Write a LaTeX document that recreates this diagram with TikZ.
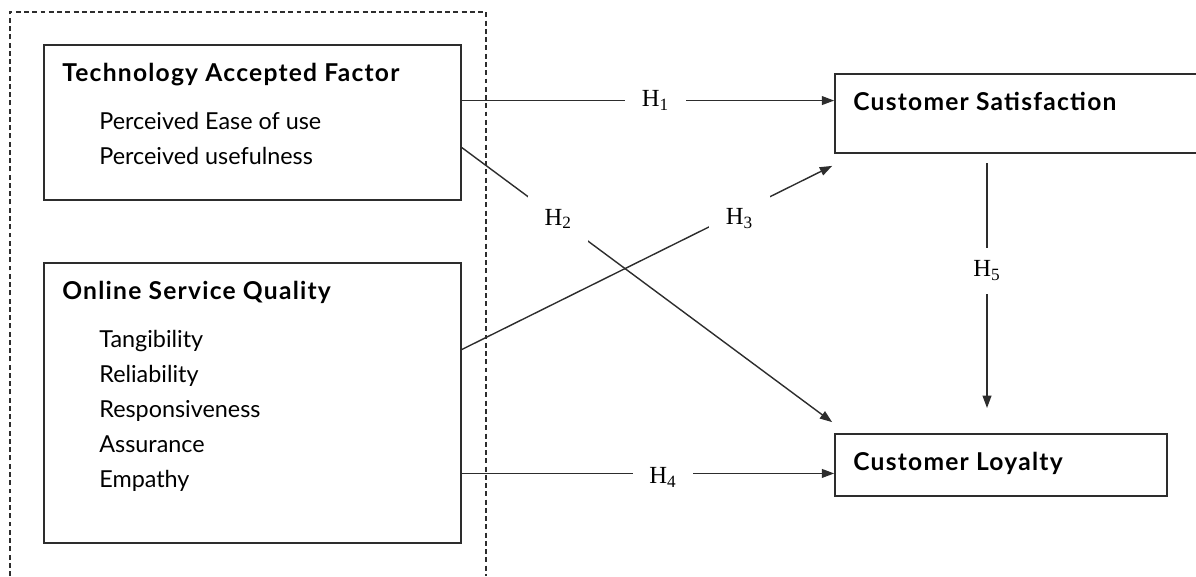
\documentclass[tikz,border=0pt]{standalone}
\usepackage{fontspec}
\setmainfont{Lato}
\newfontfamily\titlefont[LetterSpace=5]{Lato}
\newfontfamily\hypfont{Liberation Serif}
\definecolor{linegray}{RGB}{45, 45, 45}
\usetikzlibrary{calc, arrows.meta, positioning}
\tikzset{
    factorbox/.style={draw=linegray, line width=1pt, rectangle, inner sep=0pt},
    factortitle/.style={anchor=base west, inner sep=0pt,
        font=\titlefont\fontsize{14}{16}\selectfont\bfseries},
    factoritem/.style={anchor=base west, inner sep=0pt,
        font=\fontsize{13.3}{15}\selectfont},
    hyparrow/.style={draw=linegray, line width=0.8pt,
        -{Triangle[length=7pt, width=5pt]}},
    hyplabel/.style={fill=white, inner xsep=0.33cm, inner ysep=0.26cm,
        font=\hypfont\fontsize{14}{16}\selectfont},
    groupline/.style={draw=linegray, line width=0.7pt,
        dash pattern=on 2.8pt off 1.9pt},
}

\begin{document}
\begin{tikzpicture}[x=0.02cm, y=-0.02cm]
    \useasboundingbox (0, 0) rectangle (1196, 576);
    \draw[groupline] (10, 576) |- (486, 12) -- (486, 576);

    \node[factorbox, minimum width=8.34cm, minimum height=3.1cm] (taf)
        at (252.5, 122.5) {};
    \node[factortitle] (taftitle) at (62, 81) {Technology Accepted Factor};
    \node[factoritem] (peou) at (99, 129) {Perceived Ease of use};
    \node[factoritem] (pu) at (99, 164) {Perceived usefulness};

    \node[factorbox, minimum width=8.34cm, minimum height=5.6cm] (osq)
        at (252.5, 403) {};
    \node[factortitle] (osqtitle) at (62, 299) {Online Service Quality};
    \foreach \dimname [count=\i] in {Tangibility, Reliability,
            Responsiveness, Assurance, Empathy}
        \node[factoritem] (osq\i) at (99, 312 + 35*\i) {\dimname};

    \node[factorbox, minimum width=7.3cm, minimum height=1.58cm] (cs)
        at (1017.5, 113.5) {};
    \node[factortitle] (cstitle) at (853, 110) {Customer Satisfaction};
    \node[factorbox, minimum width=6.64cm, minimum height=1.24cm] (cl)
        at (1001, 465) {};
    \node[factortitle] (cltitle) at (853, 470) {Customer Loyalty};

    \coordinate (h1s) at ($(taf.north east)!.36!(taf.south east)$);
    \coordinate (h2s) at ($(taf.north east)!.66!(taf.south east)$);
    \coordinate (h3s) at ($(osq.north east)!.31!(osq.south east)$);
    \coordinate (h4s) at ($(osq.north east)!.75!(osq.south east)$);
    \coordinate (h5s) at (987, 163);
    \coordinate (h5e) at (987, 408);

    \draw[hyparrow] (h1s) -- node[hyplabel, pos=.52] (h1)
        {H\textsubscript{1}} (h1s -| cs.west);
    \draw[hyparrow] (h2s) -- node[hyplabel, pos=.26] (h2)
        {H\textsubscript{2}} ([xshift=-0.04cm, yshift=0.22cm]cl.north west);
    \draw[hyparrow] (h3s) -- node[hyplabel, pos=.75, yshift=-0.14cm] (h3)
        {H\textsubscript{3}} ([xshift=-0.04cm, yshift=-0.24cm]cs.south west);
    \draw[hyparrow] (h4s) -- node[hyplabel, pos=.54, yshift=-0.08cm] (h4)
        {H\textsubscript{4}} (h4s -| cl.west);
    \draw[hyparrow] (h5s) -- node[hyplabel, pos=.44] (h5)
        {H\textsubscript{5}} (h5e);
\end{tikzpicture}
\end{document}
